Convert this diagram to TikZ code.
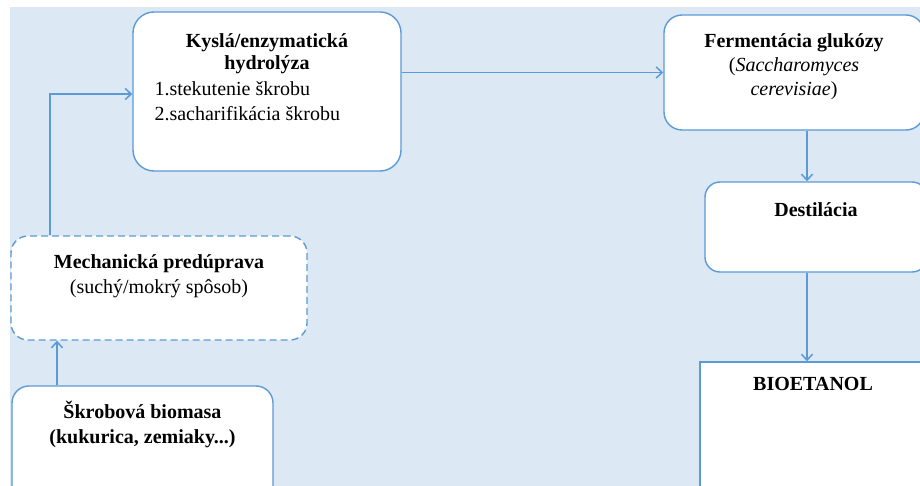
\documentclass[tikz,border=0pt]{standalone}
\usepackage{fontspec}
\setmainfont{Liberation Serif}
\usetikzlibrary{positioning,arrows.meta}
\definecolor{flowline}{RGB}{91,155,213}
\definecolor{bgblue}{RGB}{221,232,245}

\begin{document}
\begin{tikzpicture}[x=1pt,y=-1pt,
		box/.style={draw=flowline,line width=1.4pt,fill=white,inner sep=0pt},
		lbl/.style={inner sep=0pt,align=center,font=\fontsize{20}{24}\selectfont},
		hlbl/.style={inner sep=0pt,align=center,font=\fontsize{20}{22}\selectfont\bfseries},
		arr/.style={draw=flowline,line width=1.5pt,-{Straight Barb[length=6pt,width=11pt]}}]
	\useasboundingbox (0,0) rectangle (920,486);
	\clip (0,0) rectangle (920,486);
	\fill[bgblue] (10,7) rectangle (920,486);
	% steps of the process
	\node[box,rounded corners=21pt,minimum width=268pt,minimum height=159pt] (hydro) at (267,91.5) {};
	\node[box,rounded corners=18pt,minimum width=260pt,minimum height=115pt] (ferm) at (794,72.5) {};
	\node[box,rounded corners=15pt,minimum width=222pt,minimum height=90pt] (dest) at (816,227) {};
	\node[box,minimum width=226pt,minimum height=140pt] (bioet) at (813,432) {};
	\node[box,dash pattern=on 7pt off 4pt,rounded corners=17pt,minimum width=296pt,minimum height=104pt] (mech) at (159,288) {};
	\node[box,rounded corners=17pt,minimum width=261pt,minimum height=120pt] (biomass) at (142.5,446) {};
	% texts
	\node[hlbl,below=22pt of hydro.north] (hydrot) {Kyslá/enzymatická\\hydrolýza};
	\node[lbl,align=left,font=\fontsize{20}{25}\selectfont,anchor=north west] (hydrol) at ([xshift=22pt,yshift=-70pt]hydro.north west) {1.stekutenie škrobu\\2.sacharifikácia škrobu};
	\node[lbl,below=19pt of ferm.north] (fermt) {\textbf{Fermentácia glukózy}\\(\textit{Saccharomyces}\\\textit{cerevisiae})};
	\node[hlbl,below=21pt of dest.north] (destt) {Destilácia};
	\node[hlbl,below=16pt of bioet.north] (bioett) {BIOETANOL};
	\node[lbl,font=\fontsize{20}{25}\selectfont,below=19pt of mech.north] (mecht) {\textbf{Mechanická predúprava}\\(suchý/mokrý spôsob)};
	\node[hlbl,font=\fontsize{20}{25}\selectfont\bfseries,below=16pt of biomass.north] (biomasst) {Škrobová biomasa\\(kukurica, zemiaky...)};
	% connectors
	\draw[arr] ([xshift=-85.5pt]biomass.north) -- ([xshift=-85.5pt]biomass.north |- mech.south);
	\draw[arr] ([xshift=-109pt]mech.north) |- ([yshift=-2.5pt]hydro.west);
	\draw[arr] (hydro.east |- ferm.west) -- (ferm.west);
	\draw[arr] ([xshift=13pt]ferm.south) -- ([xshift=13pt]ferm.south |- dest.north);
	\draw[arr] ([xshift=-9pt]dest.south) -- ([xshift=-9pt]dest.south |- bioet.north);
\end{tikzpicture}
\end{document}
